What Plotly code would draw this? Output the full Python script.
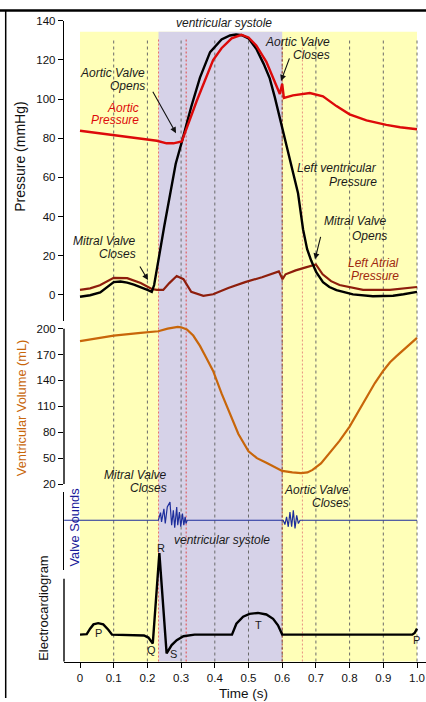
import plotly.graph_objects as go

W, H = 426, 702

# ---------------- data ----------------
t_lv = [0.0, 0.03, 0.06, 0.08, 0.10, 0.12, 0.14, 0.16, 0.18, 0.20, 0.213, 0.22, 0.25, 0.284, 0.302,
        0.33, 0.356, 0.386, 0.42, 0.445, 0.463, 0.48, 0.50, 0.523, 0.545, 0.563, 0.578, 0.593, 0.61,
        0.627, 0.647, 0.662, 0.674, 0.686, 0.701, 0.721, 0.74, 0.761, 0.81, 0.869, 0.929, 0.96, 1.0]
p_lv = [-1.0, -0.2, 1.2, 4.0, 6.5, 6.8, 6.2, 5.2, 4.0, 2.5, 1.5, 5.0, 35.0, 67.0, 78.0,
        96.0, 111.0, 124.0, 130.5, 132.5, 133.0, 132.6, 131.0, 125.7, 118.0, 110.6, 101.0, 90.5, 78.0,
        67.0, 51.9, 33.4, 23.3, 17.5, 11.6, 6.5, 4.0, 2.4, 0.2, -0.7, -0.5, 0.3, 1.5]

t_ao = [0.0, 0.05, 0.10, 0.15, 0.20, 0.228, 0.257, 0.277, 0.302, 0.346, 0.395, 0.42, 0.45, 0.479,
        0.50, 0.523, 0.553, 0.578, 0.593, 0.600, 0.605, 0.632, 0.682, 0.721, 0.761, 0.80, 0.85,
        0.909, 0.95, 1.0]
p_ao = [83.8, 82.7, 81.6, 80.5, 79.4, 78.7, 77.4, 77.4, 78.4, 98.9, 119.9, 126.0, 131.0, 132.8,
        131.5, 127.4, 119.0, 109.0, 102.6, 107.8, 100.6, 101.9, 103.1, 101.4, 96.4, 92.2, 89.1,
        86.8, 85.6, 84.6]

t_la = [0.0, 0.03, 0.059, 0.10, 0.14, 0.18, 0.213, 0.228, 0.247, 0.265, 0.287, 0.307, 0.33, 0.366,
        0.395, 0.44, 0.49, 0.54, 0.59, 0.601, 0.61, 0.64, 0.67, 0.70, 0.72, 0.745, 0.77, 0.84, 0.92, 1.0]
p_la = [2.5, 3.3, 4.9, 8.7, 8.5, 6.0, 3.0, 2.5, 2.5, 6.0, 9.6, 8.0, 1.5, -0.5,
        0.3, 3.5, 6.5, 9.0, 12.0, 8.0, 10.5, 12.5, 14.0, 15.5, 10.5, 7.0, 5.0, 2.5, 2.5, 4.0]

t_vol = [0.0, 0.05, 0.10, 0.18, 0.232, 0.26, 0.29, 0.30, 0.317, 0.336, 0.356, 0.375, 0.395, 0.42,
         0.445, 0.47, 0.50, 0.525, 0.553, 0.575, 0.60, 0.63, 0.656, 0.675, 0.69, 0.715, 0.74, 0.77,
         0.80, 0.825, 0.85, 0.875, 0.90, 0.92, 0.94, 0.97, 1.0]
v_vol = [185.5, 189.0, 192.0, 195.0, 197.0, 200.0, 202.0, 201.5, 199.0, 192.0, 180.0, 166.0, 151.0, 125.0,
         101.8, 78.0, 58.0, 50.0, 44.8, 40.0, 35.3, 33.5, 32.6, 33.5, 36.4, 44.0, 56.2, 70.0,
         86.6, 103.0, 120.8, 137.0, 151.3, 161.0, 168.4, 179.0, 189.3]

t_snd = [-0.047, 0.2325, 0.239, 0.242, 0.249, 0.253, 0.259, 0.267, 0.272, 0.277, 0.281, 0.287, 0.290,
         0.295, 0.299, 0.304, 0.308, 0.312, 0.3145, 0.318, 0.603, 0.608, 0.613, 0.618, 0.623, 0.628,
         0.633, 0.638, 0.643, 0.648, 0.653, 1.0]
a_snd = [0, 0, 0.77, -0.16, 1.17, -0.33, 1.34, 1.84, -0.5, 1.0, -0.76, 1.34, -0.5,
         0.84, -0.66, 0.67, -0.5, 0.34, -0.33, 0, 0, -0.43, 0.34, -0.66, 0.84, -0.66,
         1.0, -0.83, 0.5, -0.33, 0, 0]

t_ecg = [0.0, 0.02, 0.03, 0.04, 0.054, 0.069, 0.084, 0.095, 0.19, 0.203, 0.21, 0.216, 0.2355, 0.257,
         0.272, 0.287, 0.307, 0.326, 0.34, 0.451, 0.464, 0.484, 0.503, 0.528, 0.553, 0.573, 0.5875,
         0.60, 0.986, 0.993, 1.0]
v_ecg = [0, 0.005, 0.073, 0.125, 0.141, 0.125, 0.06, 0, -0.01, -0.036, -0.076, -0.109, 1.0, -0.23,
         -0.128, -0.068, -0.02, -0.005, 0, 0, 0.133, 0.22, 0.254, 0.266, 0.247, 0.194, 0.114,
         0.0, 0, 0.02, 0.073]

x_ticks = [0, 0.1, 0.2, 0.3, 0.4, 0.5, 0.6, 0.7, 0.8, 0.9, 1.0]
x_tick_labels = ["0", "0.1", "0.2", "0.3", "0.4", "0.5", "0.6", "0.7", "0.8", "0.9", "1.0"]
p_ticks = [0, 20, 40, 60, 80, 100, 120, 140]
v_ticks = [20, 50, 80, 110, 140, 170, 200]

cycle = [0.0, 1.0]
systole = [0.233, 0.6]
grid_t = [0.1, 0.2, 0.3, 0.4, 0.5, 0.6, 0.7, 0.8, 0.9, 1.0]
valve_t = [0.233, 0.315, 0.6, 0.66]
valve_colors = ["#E87070", "#E04848", "#A83A2A", "#E89080"]

# ---------------- geometry helpers ----------------
def px(x):
    return x / W

def py(y):
    return 1 - y / H

X0, XS = 80.0, 337.0          # pixel of t=0, pixels per second
P0, PS = 293.0, 278.0 / 140   # pressure
V20, VS = 485.0, 157.7 / 180  # volume
S0, SS = 521.7, 10.0          # valve sound
E0, ES = 637.7, 82.7          # ecg

FONT = "Liberation Sans, Arial, Helvetica, sans-serif"
RED = "#DD0A0A"
BROWN = "#8E1E0C"
ORANGE = "#C8660A"
BLUE = "#1E2E9C"

fig = go.Figure()
fig.add_trace(go.Scatter(x=t_la, y=p_la, mode="lines", line=dict(color=BROWN, width=2.2),
                         xaxis="x", yaxis="y", hoverinfo="skip"))
fig.add_trace(go.Scatter(x=t_lv, y=p_lv, mode="lines", line=dict(color="black", width=2.4),
                         xaxis="x", yaxis="y", hoverinfo="skip"))
fig.add_trace(go.Scatter(x=t_ao, y=p_ao, mode="lines", line=dict(color=RED, width=2.4),
                         xaxis="x", yaxis="y", hoverinfo="skip"))
fig.add_trace(go.Scatter(x=t_vol, y=v_vol, mode="lines", line=dict(color=ORANGE, width=2.2),
                         xaxis="x", yaxis="y2", hoverinfo="skip"))
fig.add_trace(go.Scatter(x=t_snd, y=a_snd, mode="lines", line=dict(color=BLUE, width=1.2),
                         xaxis="x", yaxis="y3", hoverinfo="skip"))
fig.add_trace(go.Scatter(x=t_ecg, y=v_ecg, mode="lines", line=dict(color="black", width=2.4),
                         xaxis="x", yaxis="y4", hoverinfo="skip"))

shapes = []
# background phases
shapes.append(dict(type="rect", xref="x", yref="paper", x0=cycle[0], x1=cycle[1],
                   y0=py(665), y1=py(26), fillcolor="#FFFFB8", line=dict(width=0), layer="below"))
shapes.append(dict(type="rect", xref="x", yref="paper", x0=systole[0], x1=systole[1],
                   y0=py(665), y1=py(26), fillcolor="#D6D2E8", line=dict(width=0), layer="below"))
for g in grid_t:
    shapes.append(dict(type="line", xref="x", yref="paper", x0=g, x1=g, y0=py(665), y1=py(33),
                       line=dict(color="#6A6A6A", width=1, dash="3px,3px"), layer="below"))
for v, c in zip(valve_t, valve_colors):
    shapes.append(dict(type="line", xref="x", yref="paper", x0=v, x1=v, y0=py(665), y1=py(33),
                       line=dict(color=c, width=1, dash="2px,2px"), layer="below"))
# axis lines drawn as shapes
shapes.append(dict(type="line", xref="paper", yref="paper", x0=px(64), x1=px(64),
                   y0=py(485), y1=py(327.3), line=dict(color="black", width=1.4)))
shapes.append(dict(type="line", xref="paper", yref="paper", x0=px(64), x1=px(64),
                   y0=py(665), y1=py(581), line=dict(color="black", width=1.4)))
# frame
shapes.append(dict(type="line", xref="paper", yref="paper", x0=0, x1=1,
                   y0=py(4.5), y1=py(4.5), line=dict(color="black", width=2.6)))
shapes.append(dict(type="line", xref="paper", yref="paper", x0=px(5.7), x1=px(5.7),
                   y0=0, y1=py(5), line=dict(color="black", width=1.5)))

ann = []
LIFT = 3.5  # italic label vertical correction (px)

def label(text, t, ypx, color="#1A1A1A", size=12, xanchor="right", italic=True):
    yy = ypx - LIFT if italic else ypx
    ann.append(dict(text=("<i>%s</i>" % text) if italic else text, x=t, y=py(yy),
                    xref="x", yref="paper", xanchor=xanchor, yanchor="middle", showarrow=False,
                    borderpad=0, font=dict(family=FONT, size=size, color=color)))

def tx(p):
    return (p - X0) / XS

label("ventricular systole", tx(224), 21, xanchor="center")
label("Aortic Valve", tx(146), 71.5)
label("Opens", tx(146), 84.5)
label("Aortic", tx(140), 106.5, color=RED)
label("Pressure", tx(140), 119.5, color=RED)
label("Aortic Valve", tx(331), 40)
label("Closes", tx(331), 53)
label("Left ventricular", tx(378), 168)
label("Pressure", tx(378), 182)
label("Mitral Valve", tx(388), 222)
label("Opens", tx(388), 237)
label("Left Atrial", tx(400), 264, color="#A0280E")
label("Pressure", tx(400), 277, color="#A0280E")
label("Mitral Valve", tx(137), 242)
label("Closes", tx(137), 255)
label("Mitral Valve", tx(168), 479)
label("Closes", tx(168), 492)
label("Aortic Valve", tx(350), 495)
label("Closes", tx(350), 508)
label("ventricular systole", tx(222), 545, xanchor="center")
for s, xp, yp in [("P", 98, 636), ("Q", 151, 653), ("R", 161, 550), ("S", 173, 657),
                  ("T", 258, 628), ("P", 416, 643)]:
    label(s, tx(xp), yp, size=11, xanchor="center", italic=False)

def arrow(t, yv, yref, axp, ayp):
    ann.append(dict(text="", x=t, y=yv, xref="x", yref=yref, ax=axp, ay=ayp, showarrow=True,
                    arrowhead=2, arrowsize=1.1, arrowwidth=1.1, arrowcolor="#111", standoff=0))

def tp(ypx):
    return (P0 - ypx) / PS

arrow(tx(176), tp(129), "y", -24, -43)
arrow(tx(281), tp(76), "y", 9, -24)
arrow(tx(315), tp(257), "y", 6, -24)
arrow(tx(148), tp(278), "y", -9, -15)

def title(text, xp, yp, size, color="#111", angle=-90):
    ann.append(dict(text=text, x=px(xp), y=py(yp), xref="paper", yref="paper", xanchor="center",
                    yanchor="middle", showarrow=False, textangle=angle,
                    font=dict(family=FONT, size=size, color=color)))

title("Pressure (mmHg)", 20, 153, 14)
title("Ventricular Volume (mL)", 21, 408, 12.8, color=ORANGE)
title("Valve Sounds", 74, 529, 12.8, color="#1A1A9A")
title("Electrocardiogram", 43.5, 611, 13)
title("Time (s)", 243, 697, 13.5, angle=0)

axis_common = dict(showgrid=False, zeroline=False, fixedrange=True)
fig.update_layout(
    width=W, height=H, margin=dict(l=0, r=0, t=0, b=0),
    paper_bgcolor="white", plot_bgcolor="rgba(0,0,0,0)", showlegend=False,
    font=dict(family=FONT, size=11.5, color="#111"),
    xaxis=dict(domain=[px(64), 1], range=[(64 - X0) / XS, (W - X0) / XS], anchor="y4",
               showline=True, linecolor="black", linewidth=1.4, ticks="outside", ticklen=5,
               tickwidth=1.3, tickcolor="black", tickvals=x_ticks, ticktext=x_tick_labels,
               tickfont=dict(size=11.5), **axis_common),
    yaxis=dict(domain=[py(320), py(15)], range=[-(320 - P0) / PS, 140], anchor="x",
               showline=True, linecolor="black", linewidth=1.4, ticks="outside", ticklen=5,
               tickwidth=1.3, tickcolor="black", tickvals=p_ticks, tickfont=dict(size=11.5),
               **axis_common),
    yaxis2=dict(domain=[py(V20 + 2 * VS), py(V20 - 185 * VS)], range=[18, 205], anchor="x",
                showline=False, ticks="outside", ticklen=5, tickwidth=1.3, tickcolor="black",
                tickvals=v_ticks, tickfont=dict(size=11.5), **axis_common),
    yaxis3=dict(domain=[py(572), py(493)], range=[-(572 - S0) / SS, (S0 - 493) / SS], anchor="x",
                showline=True, linecolor="black", linewidth=1.4, showticklabels=False, ticks="",
                **axis_common),
    yaxis4=dict(domain=[py(665), py(550)], range=[-(665 - E0) / ES, (E0 - 550) / ES], anchor="x",
                showline=False, showticklabels=False, ticks="", **axis_common),
    shapes=shapes, annotations=ann,
)

fig.write_html("out.html", config={"displayModeBar": False},
               post_script="document.body.style.margin='0';document.body.style.padding='0';")
